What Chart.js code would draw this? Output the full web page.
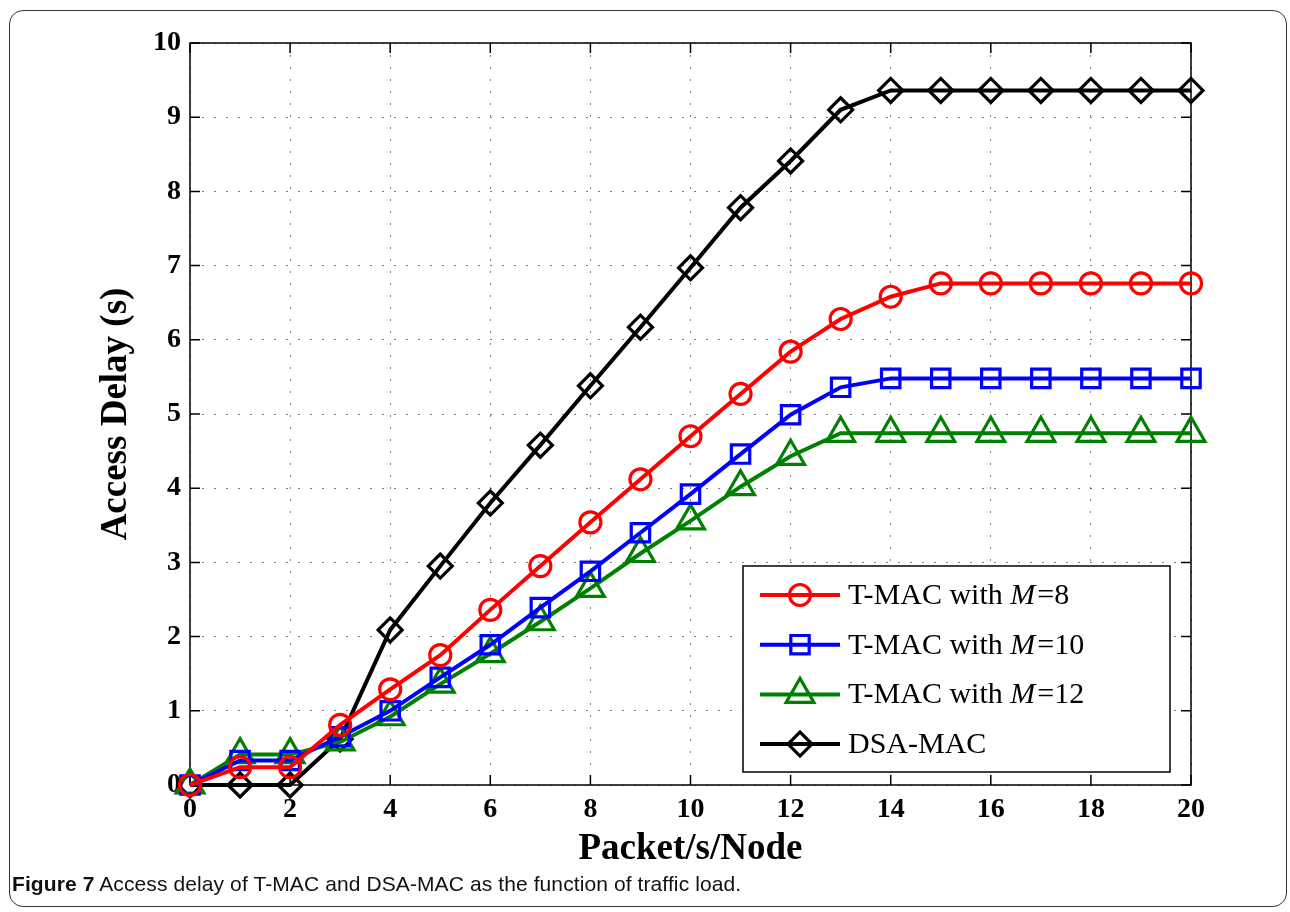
<!DOCTYPE html>
<html>
<head>
<meta charset="utf-8">
<title>Access delay</title>
<script src="https://cdn.jsdelivr.net/npm/chart.js@4/dist/chart.umd.min.js"></script>
<style>
    html, body { margin: 0; padding: 0; background: #fff; }
    body { width: 1290px; height: 912px; position: relative; overflow: hidden; }
    #frame {
        position: absolute; left: 9px; top: 10px; width: 1276px; height: 895px;
        border: 1.5px solid #333; border-radius: 14px;
    }
    #chart-wrap { position: absolute; left: 0; top: 0; width: 1290px; height: 880px; }
    #caption {
        position: absolute; left: 12px; top: 872px;
        font-family: "Liberation Sans", Arial, sans-serif; font-size: 21px; color: #111;
        letter-spacing: 0.1px;
    }
    #caption b { font-weight: bold; }
</style>
</head>
<body>
<div id="frame"></div>
<div id="chart-wrap"><canvas id="delayChart" width="1290" height="880"></canvas></div>
<div id="caption"><b>Figure 7</b> Access delay of T-MAC and DSA-MAC as the function of traffic load.</div>

<script>
// data
const load = [0, 1, 2, 3, 4, 5, 6, 7, 8, 9, 10, 11, 12, 13, 14, 15, 16, 17, 18, 19, 20];
const tmacM8 = [0, 0.24, 0.24, 0.81, 1.29, 1.75, 2.36, 2.95, 3.54, 4.12, 4.70, 5.27, 5.84, 6.28, 6.58, 6.76, 6.76, 6.76, 6.76, 6.76, 6.76];
const tmacM10 = [0, 0.33, 0.33, 0.65, 1.00, 1.45, 1.89, 2.39, 2.88, 3.40, 3.92, 4.46, 4.99, 5.36, 5.48, 5.48, 5.48, 5.48, 5.48, 5.48, 5.48];
const tmacM12 = [0, 0.41, 0.41, 0.58, 0.92, 1.36, 1.77, 2.20, 2.65, 3.12, 3.56, 4.02, 4.43, 4.74, 4.74, 4.74, 4.74, 4.74, 4.74, 4.74, 4.74];
const dsaMac = [0, 0, 0, 0.62, 2.09, 2.95, 3.80, 4.58, 5.38, 6.17, 6.97, 7.78, 8.41, 9.10, 9.36, 9.36, 9.36, 9.36, 9.36, 9.36, 9.36];

const xTicks = [0, 2, 4, 6, 8, 10, 12, 14, 16, 18, 20];
const yTicks = [0, 1, 2, 3, 4, 5, 6, 7, 8, 9, 10];

// legend: prefix, italic part, suffix
const legendPrefix = ['T-MAC with ', 'T-MAC with ', 'T-MAC with ', 'DSA-MAC'];
const legendItalic = ['M', 'M', 'M', ''];
const legendSuffix = ['=8', '=10', '=12', ''];

const serif = '"Liberation Serif", "Times New Roman", serif';

function toPoints(ys) {
    return load.map((x, i) => ({ x: x, y: ys[i] }));
}

function makeSet(label, ys, color, style, radius) {
    return {
        label: label,
        data: toPoints(ys),
        borderColor: color,
        borderWidth: 4,
        backgroundColor: 'rgba(0,0,0,0)',
        pointStyle: style,
        pointRadius: radius,
        pointBorderWidth: 3.2,
        pointBackgroundColor: 'rgba(0,0,0,0)',
        pointBorderColor: color,
        tension: 0,
        clip: false
    };
}

// box around the axes with inward ticks on all four sides
const boxPlugin = {
    id: 'box',
    beforeDatasetsDraw(chart) {
        const ctx = chart.ctx;
        const a = chart.chartArea;
        const xs = chart.scales.x, ys = chart.scales.y;
        ctx.save();
        ctx.strokeStyle = '#000';
        ctx.lineWidth = 1.5;
        ctx.strokeRect(a.left, a.top, a.right - a.left, a.bottom - a.top);
        ctx.beginPath();
        xTicks.forEach(v => {
            const px = xs.getPixelForValue(v);
            ctx.moveTo(px, a.bottom); ctx.lineTo(px, a.bottom - 10);
            ctx.moveTo(px, a.top); ctx.lineTo(px, a.top + 10);
        });
        yTicks.forEach(v => {
            const py = ys.getPixelForValue(v);
            ctx.moveTo(a.left, py); ctx.lineTo(a.left + 10, py);
            ctx.moveTo(a.right, py); ctx.lineTo(a.right - 10, py);
        });
        ctx.stroke();
        ctx.restore();
    },
    afterDraw(chart) {
        // legend box in the lower right
        const ctx = chart.ctx;
        const bx = 743, by = 566, bw = 427, bh = 206;
        ctx.save();
        ctx.fillStyle = '#fff';
        ctx.fillRect(bx, by, bw, bh);
        ctx.strokeStyle = '#000';
        ctx.lineWidth = 1.5;
        ctx.strokeRect(bx, by, bw, bh);
        chart.data.datasets.forEach((ds, i) => {
            const y = by + 29 + i * 49.7;
            ctx.strokeStyle = ds.borderColor;
            ctx.lineWidth = 4;
            ctx.beginPath();
            ctx.moveTo(760, y); ctx.lineTo(840, y);
            ctx.stroke();
            // hollow marker
            ctx.fillStyle = 'rgba(0,0,0,0)';
            ctx.lineWidth = ds.pointBorderWidth;
            Chart.helpers.drawPoint(ctx, {
                pointStyle: ds.pointStyle, radius: ds.pointRadius, rotation: 0, borderWidth: ds.pointBorderWidth
            }, 800, y);

            ctx.fillStyle = '#000';
            ctx.textBaseline = 'middle';
            let tx = 848;
            ctx.font = '30px ' + serif;
            ctx.fillText(legendPrefix[i], tx, y + 1);
            tx += ctx.measureText(legendPrefix[i]).width;
            if (legendItalic[i]) {
                ctx.font = 'italic 30px ' + serif;
                ctx.fillText(legendItalic[i], tx, y + 1);
                tx += ctx.measureText(legendItalic[i]).width + 2;
                ctx.font = '30px ' + serif;
                ctx.fillText(legendSuffix[i], tx, y + 1);
            }
        });
        ctx.restore();
    }
};

document.addEventListener("DOMContentLoaded", function () {
    const ctx = document.getElementById('delayChart').getContext('2d');

    new Chart(ctx, {
        type: 'line',
        data: {
            datasets: [
                makeSet('T-MAC with M=8', tmacM8, '#ff0000', 'circle', 10.5),
                makeSet('T-MAC with M=10', tmacM10, '#0000ff', 'rect', 13),
                makeSet('T-MAC with M=12', tmacM12, '#008000', 'triangle', 16),
                makeSet('DSA-MAC', dsaMac, '#000000', 'rectRot', 12)
            ]
        },
        options: {
            responsive: false,
            animation: false,
            devicePixelRatio: 1,
            layout: { padding: { top: 43, right: 99, left: 0, bottom: 0 } },
            plugins: {
                legend: { display: false },
                tooltip: { enabled: false }
            },
            scales: {
                x: {
                    type: 'linear',
                    min: 0,
                    max: 20,
                    afterFit: s => { s.height = 95; },
                    afterBuildTicks: s => { s.ticks = xTicks.map(v => ({ value: v })); },
                    ticks: {
                        color: '#000',
                        padding: 8,
                        maxRotation: 0,
                        font: { family: serif, size: 28, weight: 'bold' }
                    },
                    grid: { color: 'rgba(0,0,0,0.5)', lineWidth: 1, drawTicks: false },
                    border: { display: false, dash: [2, 10] },
                    title: {
                        display: true,
                        text: 'Packet/s/Node',
                        color: '#000',
                        padding: { top: 0, bottom: 8 },
                        font: { family: serif, size: 37, weight: 'bold' }
                    }
                },
                y: {
                    min: 0,
                    max: 10,
                    afterFit: s => { s.width = 190; },
                    afterBuildTicks: s => { s.ticks = yTicks.map(v => ({ value: v })); },
                    ticks: {
                        color: '#000',
                        padding: 9,
                        font: { family: serif, size: 28, weight: 'bold' }
                    },
                    grid: { color: 'rgba(0,0,0,0.5)', lineWidth: 1, drawTicks: false },
                    border: { display: false, dash: [2, 10] },
                    title: {
                        display: true,
                        text: 'Access Delay (s)',
                        color: '#000',
                        padding: { top: 94, bottom: 0 },
                        font: { family: serif, size: 37, weight: 'bold' }
                    }
                }
            }
        },
        plugins: [boxPlugin]
    });
});
</script>
</body>
</html>
